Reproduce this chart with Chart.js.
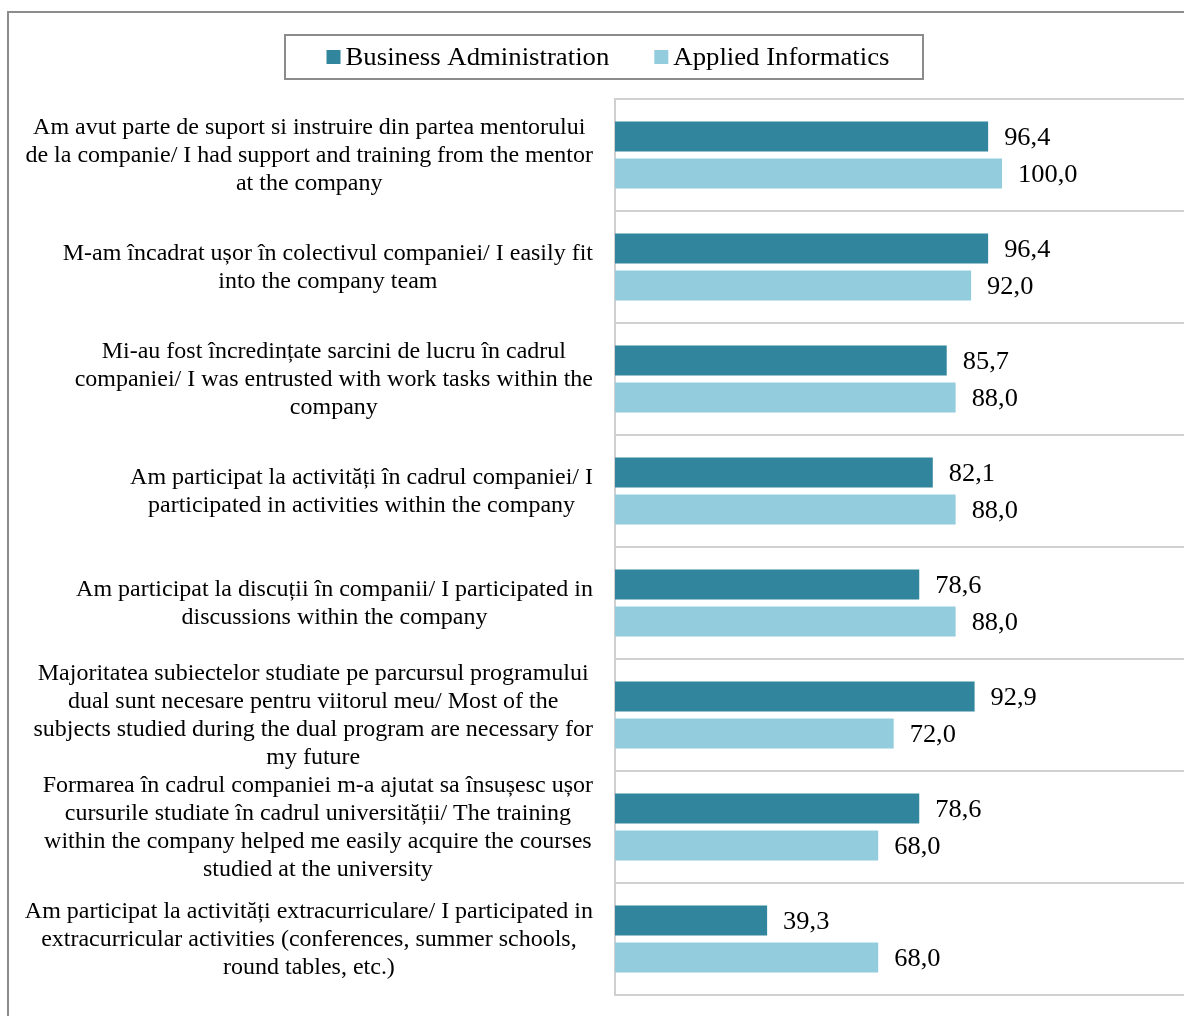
<!DOCTYPE html>
<html>
<head>
<meta charset="utf-8">
<script src="https://cdn.jsdelivr.net/npm/chart.js@4/dist/chart.umd.min.js"></script>
<style>
  html, body { margin: 0; padding: 0; background: #fff; overflow: hidden; }
  #wrap { position: relative; width: 1184px; height: 1016px; }
  #frame { position: absolute; left: 7px; top: 11px; width: 1300px; height: 1100px; border: 2px solid #8c8c8c; }
  #chart { position: absolute; left: 0; top: 0; }
</style>
</head>
<body>
<div id="wrap">
  <div id="frame"></div>
  <canvas id="chart" width="1184" height="1016"></canvas>
</div>
<script>
const categories = [
    ['Am avut parte de suport si instruire din partea mentorului', 'de la companie/ I had support and training from the mentor', 'at the company'],
    ['M-am încadrat ușor în colectivul companiei/ I easily fit', 'into the company team'],
    ['Mi-au fost încredințate sarcini de lucru în cadrul', 'companiei/ I was entrusted with work tasks within the', 'company'],
    ['Am participat la activități în cadrul companiei/ I', 'participated in activities within the company'],
    ['Am participat la discuții în companii/ I participated in', 'discussions within the company'],
    ['Majoritatea subiectelor studiate pe parcursul programului', 'dual sunt necesare pentru viitorul meu/ Most of the', 'subjects studied during the dual program are necessary for', 'my future'],
    ['Formarea în cadrul companiei m-a ajutat sa însușesc ușor', 'cursurile studiate în cadrul universității/ The training', 'within the company helped me easily acquire the courses', 'studied at the university'],
    ['Am participat la activități extracurriculare/ I participated in', 'extracurricular activities (conferences, summer schools,', 'round tables, etc.)']
];
const seriesNames = ['Business Administration', 'Applied Informatics'];
const businessAdmin = [96.4, 96.4, 85.7, 82.1, 78.6, 92.9, 78.6, 39.3];
const appliedInfo = [100.0, 92.0, 88.0, 88.0, 88.0, 72.0, 68.0, 68.0];

const FONT = '"Liberation Serif", "Times New Roman", serif';
const fmt = v => v.toFixed(1).replace('.', ',');

// the source text is a bit wider than plain Times, so stretch it horizontally
function wideText(ctx, text, x, y, sx) {
    ctx.save();
    ctx.translate(x, y);
    ctx.scale(sx, 1);
    ctx.fillText(text, 0, 0);
    ctx.restore();
}

// category labels: block right-aligned to the axis, lines centred inside the block
const catLabels = {
    id: 'catLabels',
    afterDraw(chart) {
        const ctx = chart.ctx;
        const y = chart.scales.y;
        const right = 593, lh = 28, sx = 1.043;
        ctx.save();
        ctx.font = '23px ' + FONT;
        ctx.fillStyle = '#000';
        ctx.textAlign = 'center';
        ctx.textBaseline = 'middle';
        categories.forEach((lines, i) => {
            const maxW = Math.max(...lines.map(l => ctx.measureText(l).width)) * sx;
            const cx = right - maxW / 2;
            const cy = y.getPixelForValue(i) + 1;
            lines.forEach((l, j) => wideText(ctx, l, cx, cy + (j - (lines.length - 1) / 2) * lh, sx));
        });
        ctx.restore();
    }
};

const valueLabels = {
    id: 'valueLabels',
    afterDatasetsDraw(chart) {
        const ctx = chart.ctx;
        ctx.save();
        ctx.font = '25px ' + FONT;
        ctx.fillStyle = '#000';
        ctx.textAlign = 'left';
        ctx.textBaseline = 'middle';
        chart.data.datasets.forEach((ds, di) => {
            chart.getDatasetMeta(di).data.forEach((bar, i) => {
                wideText(ctx, fmt(ds.data[i]), bar.x + 16, bar.y + 2, 1.057);
            });
        });
        ctx.restore();
    }
};

const boxLegend = {
    id: 'boxLegend',
    afterDraw(chart) {
        const ctx = chart.ctx;
        const bx = 285, by = 35, bw = 638, bh = 44, sx = 1.07;
        ctx.save();
        ctx.strokeStyle = '#8c8c8c';
        ctx.lineWidth = 2;
        ctx.strokeRect(bx, by, bw, bh);
        ctx.font = '25px ' + FONT;
        ctx.textBaseline = 'middle';
        ctx.textAlign = 'left';
        const sq = 14, gap = 5, spacing = 45;
        const widths = chart.data.datasets.map(ds => ctx.measureText(ds.label).width * sx);
        const total = widths.reduce((s, w) => s + sq + gap + w, 0) + spacing;
        let x = bx + bw / 2 - total / 2 + 4;
        const cy = by + bh / 2;
        chart.data.datasets.forEach((ds, i) => {
            ctx.fillStyle = ds.backgroundColor;
            ctx.fillRect(x, cy - sq / 2, sq, sq);
            ctx.fillStyle = '#000';
            wideText(ctx, ds.label, x + sq + gap, cy + 1, sx);
            x += sq + gap + widths[i] + spacing;
        });
        ctx.restore();
    }
};

new Chart(document.getElementById('chart'), {
    type: 'bar',
    data: {
        labels: categories.map(c => c.join(' ')),
        datasets: [
            { label: seriesNames[0], data: businessAdmin, backgroundColor: '#31859C', categoryPercentage: 0.66, barPercentage: 0.81 },
            { label: seriesNames[1], data: appliedInfo, backgroundColor: '#93CDDD', categoryPercentage: 0.66, barPercentage: 0.81 }
        ]
    },
    options: {
        indexAxis: 'y',
        responsive: false,
        animation: false,
        layout: { padding: { left: 0, top: 99, right: 0, bottom: 21 } },
        plugins: { legend: { display: false }, tooltip: { enabled: false } },
        scales: {
            x: { min: 0, max: 147, display: false },
            y: {
                ticks: { display: false },
                grid: { color: '#d0d0d0', lineWidth: 2, drawTicks: false, offset: true },
                border: { display: true, color: '#d0d0d0', width: 2 },
                afterFit(scale) { scale.width = 615; }
            }
        }
    },
    plugins: [catLabels, valueLabels, boxLegend]
});
</script>
</body>
</html>
